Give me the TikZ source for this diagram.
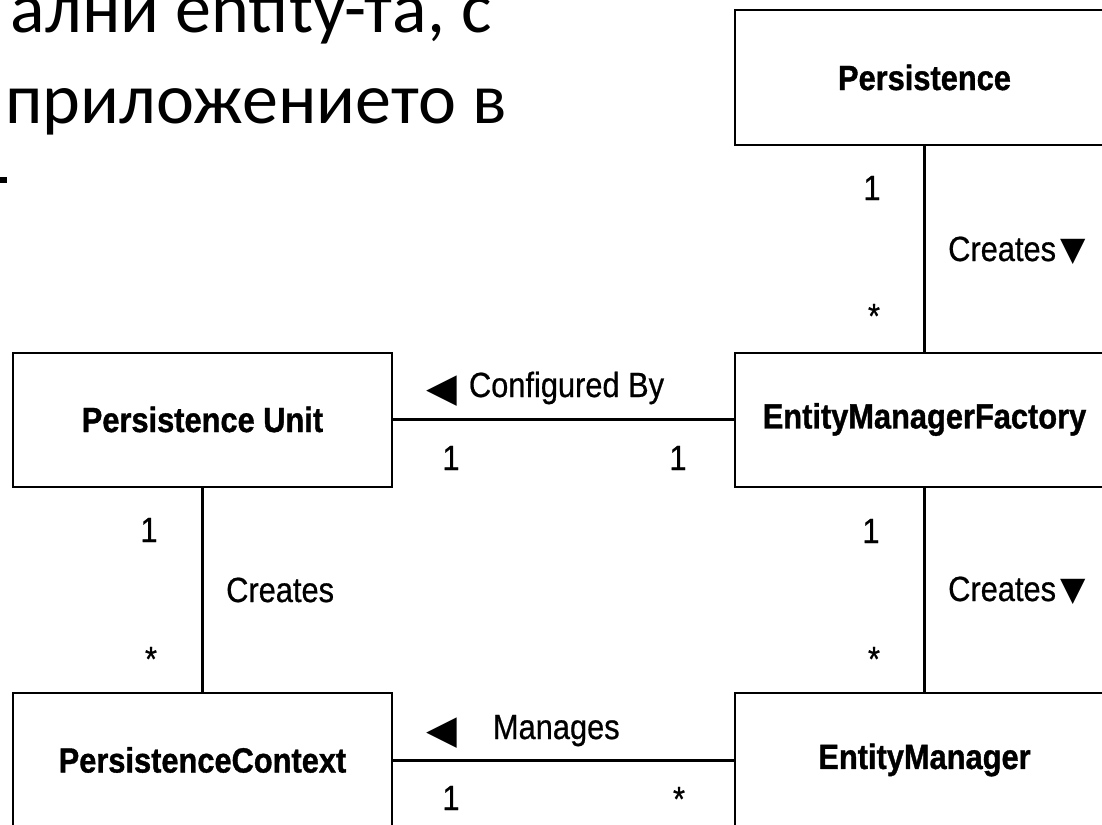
\documentclass[tikz,border=0pt]{standalone}
\usepackage{fontspec}
\setmainfont{Liberation Sans}
\newfontfamily\cond[FakeStretch=0.88, FakeBold=0.6]{Liberation Sans}
\newfontfamily\condb[FakeStretch=0.88, BoldFeatures={FakeBold=1.0}]{Liberation Sans}
\newfontfamily\slidefont{Carlito}
\newfontfamily\sym{DejaVu Sans}
\newcommand{\tri}[2]{{\sym\fontsize{#1}{#1}\selectfont #2}}
\tikzset{
  cls/.style={draw=black, line width=2pt, minimum width=379pt, minimum height=134pt,
    inner sep=0pt, font=\condb\bfseries\fontsize{35}{40}\selectfont},
  conn/.style={line width=3pt},
  lbl/.style={inner sep=0pt, font=\cond\fontsize{35}{40}\selectfont},
  slide/.style={inner sep=0pt, font=\slidefont\fontsize{72}{86}\selectfont}
}
\begin{document}
\begin{tikzpicture}[x=1pt,y=-1pt]
\useasboundingbox (0,0) rectangle (1102,824);
\fill[white] (0,0) rectangle (1102,824);
\clip (0,0) rectangle (1102,824);
% slide text behind the picture
\node[slide, anchor=base east] (t1) at (492,33) {ални entity-та, с};
\node[slide, anchor=base west] (t2) at (5,124) {приложението в};
\fill[black] (0,177) rectangle (7,183);
% classes
\node[cls] (persistence) at (924.5,77.5) {Persistence};
\node[cls] (emf) at (924.5,419.5) {EntityManagerFactory};
\node[cls] (pu) at (202.5,419.5) {Persistence Unit};
\node[cls] (pc) at (202.5,760) {PersistenceContext};
\node[cls] (em) at (924.5,760) {EntityManager};
% connectors
\draw[conn] (persistence.south) -- (emf.north);
\draw[conn] (emf.south) -- (em.north);
\draw[conn] (pu.south) -- (pc.north);
\draw[conn] (pu.east) -- (emf.west);
\draw[conn] (pc.east) -- (em.west);
% labels: Persistence - EMF
\node[lbl, anchor=base] (m1) at (872,200) {1};
\node[lbl, anchor=base] (m2) at (874,328) {*};
\node[lbl, anchor=base west] (c1) at (948,261) {Creates\hspace{4pt}\raisebox{1pt}{\tri{33}{▼}}};
% EMF - EM
\node[lbl, anchor=base] (m3) at (871,543) {1};
\node[lbl, anchor=base] (m4) at (874,671) {*};
\node[lbl, anchor=base west] (c2) at (948,601) {Creates\hspace{4pt}\raisebox{1pt}{\tri{33}{▼}}};
% PU - EMF
\node[lbl, anchor=base west] (cb) at (426,397) {\raisebox{-4pt}{\tri{40}{◀}}\hspace{12pt}Configured By};
\node[lbl, anchor=base] (m5) at (451,470) {1};
\node[lbl, anchor=base] (m6) at (678,470) {1};
% PU - PC
\node[lbl, anchor=base west] (c3) at (226,602) {Creates};
\node[lbl, anchor=base] (m7) at (149,542) {1};
\node[lbl, anchor=base] (m8) at (151,671) {*};
% PC - EM
\node[lbl, anchor=base west] (mg) at (426,739) {\raisebox{-4pt}{\tri{40}{◀}}\hspace{36pt}Manages};
\node[lbl, anchor=base] (m9) at (451,810) {1};
\node[lbl, anchor=base] (m10) at (679,811) {*};
\end{tikzpicture}
\end{document}
